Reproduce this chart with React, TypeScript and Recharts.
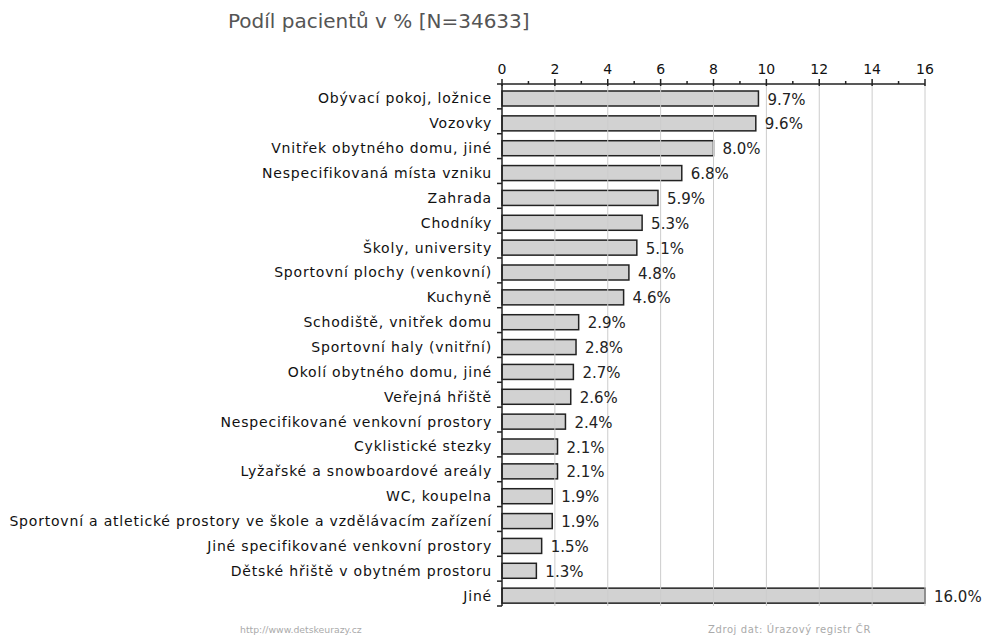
import { BarChart, Bar, XAxis, YAxis, ReferenceLine, LabelList } from "recharts";

const categories = [
    "Obývací pokoj, ložnice",
    "Vozovky",
    "Vnitřek obytného domu, jiné",
    "Nespecifikovaná místa vzniku",
    "Zahrada",
    "Chodníky",
    "Školy, university",
    "Sportovní plochy (venkovní)",
    "Kuchyně",
    "Schodiště, vnitřek domu",
    "Sportovní haly (vnitřní)",
    "Okolí obytného domu, jiné",
    "Veřejná hřiště",
    "Nespecifikované venkovní prostory",
    "Cyklistické stezky",
    "Lyžařské a snowboardové areály",
    "WC, koupelna",
    "Sportovní a atletické prostory ve škole a vzdělávacím zařízení",
    "Jiné specifikované venkovní prostory",
    "Dětské hřiště v obytném prostoru",
    "Jiné",
];

const shares = [9.7, 9.6, 8.0, 6.8, 5.9, 5.3, 5.1, 4.8, 4.6, 2.9, 2.8, 2.7, 2.6, 2.4, 2.1, 2.1, 1.9, 1.9, 1.5, 1.3, 16.0];

const xTicks = [0, 1, 2, 3, 4, 5, 6, 7, 8, 9, 10, 11, 12, 13, 14, 15, 16];
const gridValues = [2, 4, 6, 8, 10, 12, 14, 16];

const data = categories.map((name, i) => ({ name, value: shares[i] }));

const W = 986;
const H = 638;
const TOP = 84;
const BOTTOM = 606;
const BAND = (BOTTOM - TOP) / categories.length;
const SHIFT = 2; // bars sit a little below the band centre in the original
const FONT = "'DejaVu Sans', Verdana, sans-serif";

const TopTick = (props: any) => {
    const { x, y, payload } = props;
    const major = payload.value % 2 === 0;
    return (
        <g>
            <line x1={x} x2={x} y1={major ? y - 5 : y - 3} y2={major ? y + 2 : y} stroke="#222" strokeWidth={1.5} />
            {major && (
                <text x={x} y={y - 10} textAnchor="middle" fontSize={14} fontFamily={FONT} fill="#111">
                    {payload.value}
                </text>
            )}
        </g>
    );
};

const LeftTick = (props: any) => {
    const { x, y, payload, index } = props;
    const last = index === categories.length - 1;
    return (
        <g>
            <line x1={x - 5} x2={x} y1={y - BAND / 2} y2={y - BAND / 2} stroke="#222" strokeWidth={1.5} />
            {last && <line x1={x - 5} x2={x} y1={y + BAND / 2} y2={y + BAND / 2} stroke="#222" strokeWidth={1.5} />}
            <text
                x={x - 10}
                y={y + SHIFT}
                dominantBaseline="central"
                textAnchor="end"
                fontSize={14}
                letterSpacing={0.8}
                fontFamily={FONT}
                fill="#111"
            >
                {payload.value}
            </text>
        </g>
    );
};

const BarShape = (props: any) => {
    const { x, y, width, height } = props;
    return <rect x={x} y={y + SHIFT} width={width} height={height} fill="#d2d2d2" stroke="#222" strokeWidth={1.5} />;
};

const ValueLabel = (props: any) => {
    const { x, y, width, height, value } = props;
    return (
        <text
            x={x + width + 9}
            y={y + height / 2 + SHIFT + 1}
            dominantBaseline="central"
            fontSize={15}
            fontFamily={FONT}
            fill="#222"
        >
            {Number(value).toFixed(1) + "%"}
        </text>
    );
};

export default function App() {
    return (
        <div style={{ position: "absolute", left: 0, top: 0, width: W, height: H, background: "#fff", fontFamily: FONT }}>
            <div style={{ position: "absolute", left: 228, top: 9, fontSize: 20, color: "#555" }}>
                Podíl pacientů v % [N=34633]
            </div>
            <BarChart
                width={W}
                height={H}
                data={data}
                layout="vertical"
                margin={{ top: TOP - 30, right: W - 925, bottom: H - BOTTOM, left: 10 }}
                barCategoryGap={0}
            >
                {gridValues.map((v) => (
                    <ReferenceLine key={v} x={v} stroke="#cccccc" strokeWidth={1} />
                ))}
                <XAxis
                    type="number"
                    orientation="top"
                    domain={[0, 16]}
                    ticks={xTicks}
                    interval={0}
                    height={30}
                    tickSize={0}
                    tickMargin={0}
                    tickLine={false}
                    axisLine={{ stroke: "#222", strokeWidth: 1.5 }}
                    tick={<TopTick />}
                />
                <YAxis
                    type="category"
                    dataKey="name"
                    width={492}
                    interval={0}
                    tickSize={0}
                    tickMargin={0}
                    tickLine={false}
                    axisLine={{ stroke: "#222", strokeWidth: 1.5 }}
                    tick={<LeftTick />}
                />
                <Bar dataKey="value" barSize={15} shape={<BarShape />} isAnimationActive={false}>
                    <LabelList dataKey="value" content={<ValueLabel />} />
                </Bar>
            </BarChart>
            <div style={{ position: "absolute", left: 240, top: 624, fontSize: 9.3, color: "#aaa" }}>
                http://www.detskeurazy.cz
            </div>
            <div style={{ position: "absolute", left: 708, top: 624, fontSize: 10, letterSpacing: 0.6, color: "#aaa" }}>
                Zdroj dat: Úrazový registr ČR
            </div>
        </div>
    );
}
